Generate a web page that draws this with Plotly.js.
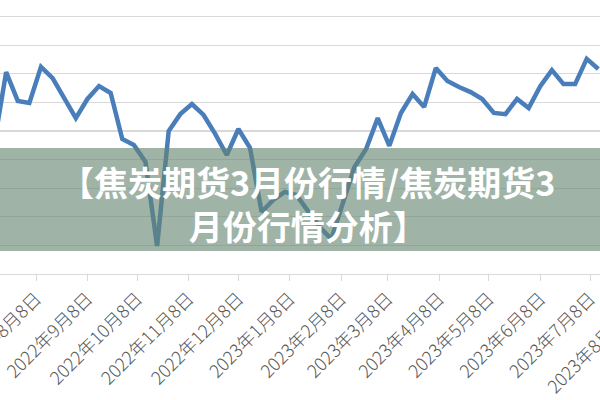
<!DOCTYPE html>
<html>
<head>
<meta charset="utf-8">
<script src="https://cdn.plot.ly/plotly-3.0.1.min.js"></script>
<style>html,body{margin:0;padding:0;background:#fff;}#chart{width:600px;height:400px;}</style>
</head>
<body>
<div id="chart"></div>
<script>
// Weekly observation dates
var dates = [
  "2022-07-14","2022-07-21","2022-07-28","2022-08-04","2022-08-11","2022-08-18","2022-08-25",
  "2022-09-01","2022-09-08","2022-09-15","2022-09-22","2022-09-29",
  "2022-10-06","2022-10-13","2022-10-20","2022-10-27",
  "2022-11-03","2022-11-10","2022-11-17","2022-11-24",
  "2022-12-01","2022-12-08","2022-12-15","2022-12-22","2022-12-29",
  "2023-01-05","2023-01-12","2023-01-19","2023-01-26",
  "2023-02-02","2023-02-09","2023-02-16","2023-02-23",
  "2023-03-02","2023-03-09","2023-03-16","2023-03-23","2023-03-30",
  "2023-04-06","2023-04-13","2023-04-20","2023-04-27",
  "2023-05-04","2023-05-11","2023-05-18","2023-05-25",
  "2023-06-01","2023-06-08","2023-06-15","2023-06-22","2023-06-29",
  "2023-07-06","2023-07-13"
];
// Series values
var values = [
  46.2, 70.6, 60.5, 59.8, 72.4, 68.5, 61.5,
  54.5, 61.2, 65.7, 63.3, 47.2,
  45.1, 39.2, 9.8, 50.0,
  55.9, 59.4, 55.6, 49.0,
  41.6, 50.7, 44.1, 21.7, 25.9,
  28.7, 27.6, 22.0, 16.4,
  12.2, 24.8, 37.4, 43.7,
  54.5, 44.8, 56.3, 62.9, 58.4,
  72.0, 67.5, 65.4, 63.6,
  61.2, 56.3, 55.9, 61.2,
  58.0, 65.7, 71.3, 66.4, 66.4,
  75.2, 71.7
];
// Tick labels
var tickDates = ["2022-08-08","2022-09-08","2022-10-08","2022-11-08","2022-12-08",
  "2023-01-08","2023-02-08","2023-03-08","2023-04-08","2023-05-08","2023-06-08","2023-07-08"];
var tickLabels = ["2022年8月8日","2022年9月8日","2022年10月8日","2022年11月8日","2022年12月8日",
  "2023年1月8日","2023年2月8日","2023年3月8日","2023年4月8日","2023年5月8日","2023年6月8日","2023年7月8日"];
var nextTickLabel = "2023年8月8日";
var bannerText = "【焦炭期货3月份行情/焦炭期货3<br>月份行情分析】";

var tickFont = {family: "Noto Sans CJK SC, sans-serif", size: 18, color: "#595959", weight: 300};

var trace = {
  x: dates, y: values, type: "scatter", mode: "lines",
  line: {color: "#4A7EBB", width: 4.5, shape: "linear"},
  hoverinfo: "skip"
};

var layout = {
  width: 600, height: 400,
  margin: {l: 0, r: 0, t: 0, b: 126, pad: 0},
  paper_bgcolor: "#ffffff", plot_bgcolor: "#ffffff",
  showlegend: false,
  xaxis: {
    type: "date",
    range: ["2022-07-17 07:00", "2023-07-14 00:00"],
    tickmode: "array", tickvals: tickDates, ticktext: tickLabels,
    tickangle: -45, ticks: "outside", ticklen: 6, tickcolor: "#d9d9d9", tickwidth: 1,
    ticklabeloverflow: "allow",
    showline: true, linecolor: "#d9d9d9", linewidth: 1,
    showgrid: false, zeroline: false,
    tickfont: tickFont
  },
  yaxis: {
    range: [0, 95.8], dtick: 10, tick0: 0,
    showticklabels: false, ticks: "",
    gridcolor: "#d9d9d9", gridwidth: 1.2,
    zeroline: false, showline: false
  },
  shapes: [{
    type: "rect", xref: "paper", yref: "paper",
    x0: 0, x1: 1, y0: 0.084, y1: 0.46,
    fillcolor: "rgb(100,133,113)", opacity: 0.62,
    line: {width: 0}, layer: "above"
  }],
  annotations: [{
    xref: "paper", yref: "paper", x: 0.513, y: (274 - 203) / 274,
    xanchor: "center", yanchor: "middle", showarrow: false,
    text: bannerText, align: "center",
    font: {family: "Noto Sans CJK SC, sans-serif", size: 34, color: "#ffffff", weight: "bold"}
  }, {
    xref: "paper", yref: "paper", x: 641 / 600, y: (274 - 297) / 274,
    xanchor: "right", yanchor: "top", showarrow: false,
    textangle: -45, text: nextTickLabel,
    font: tickFont
  }]
};

Plotly.newPlot("chart", [trace], layout, {displayModeBar: false, staticPlot: true});
</script>
</body>
</html>
